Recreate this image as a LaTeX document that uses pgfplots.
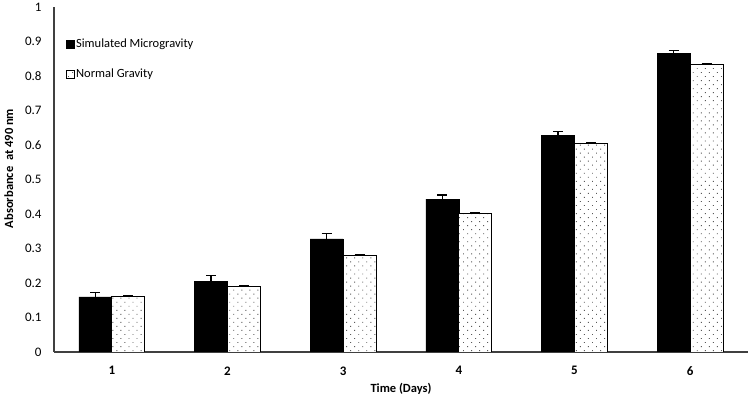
\documentclass[border=0pt]{standalone}
\usepackage{fontspec}
\setmainfont{Carlito}
\usepackage{pgfplots}
\pgfplotsset{compat=1.18}
\usepackage{pgfplotstable}
\usetikzlibrary{patterns.meta}

\pgfplotstableread{
day sim simerr norm normerr
1 0.160 0.012 0.160 0.004
2 0.205 0.016 0.190 0.002
3 0.328 0.015 0.281 0.002
4 0.443 0.012 0.401 0.003
5 0.628 0.011 0.604 0.003
6 0.866 0.008 0.833 0.003
}\absdata

\begin{document}
\begin{tikzpicture}
\begin{axis}[
    at={(0,0)}, anchor=south west,
    scale only axis,
    width=694pt, height=345pt,
    ybar=0pt, bar width=33pt,
    xmin=0.5, xmax=6.5,
    ymin=0, ymax=1,
    xtick={1,...,6},
    ytick={0,0.1,...,1},
    axis x line=bottom, axis y line=left,
    axis line style={-, black!75, line width=1.2pt},
    major tick length=0pt,
    /pgf/number format/assume math mode=true,
    yticklabel style={font=\fontsize{13}{15}\selectfont, xshift=-9pt},
    xticklabel style={font=\fontsize{13}{15}\selectfont\bfseries, yshift=-11pt},
    xlabel={Time (Days)},
    ylabel={Absorbance\ \ at 490 nm},
    xlabel style={font=\fontsize{12.5}{14}\selectfont\bfseries, yshift=-1pt},
    ylabel style={font=\fontsize{12.5}{14}\selectfont\bfseries, yshift=5pt, xshift=11pt},
    legend style={at={(0.012,0.92)}, anchor=north west, draw=none, fill=none,
        font=\fontsize{12.5}{14}\selectfont, row sep=16pt,
        /tikz/every even column/.style={column sep=0pt}},
    legend cell align=left,
    legend image code/.code={\draw[#1, draw=black, line width=0.6pt] (0pt,-4pt) rectangle (8pt,4pt);},
    error bars/y dir=plus, error bars/y explicit,
    error bars/error bar style={black, line width=1.4pt},
    error bars/error mark options={black, line width=1.4pt, mark size=5pt, rotate=90},
]
\addplot[fill=black, draw=black]
    table[x=day, y=sim, y error=simerr] {\absdata};
\addlegendentry{Simulated Microgravity}
\addplot[draw=black, line width=0.8pt, fill=white,
    postaction={pattern={Dots[distance=5.7pt, angle=45, radius=0.65pt]}, pattern color=black!65}]
    table[x=day, y=norm, y error=normerr] {\absdata};
\addlegendentry{Normal Gravity}
\end{axis}
\pgfresetboundingbox
\path[use as bounding box] (-54pt,-51pt) rectangle (697pt,352pt);
\end{tikzpicture}
\end{document}
